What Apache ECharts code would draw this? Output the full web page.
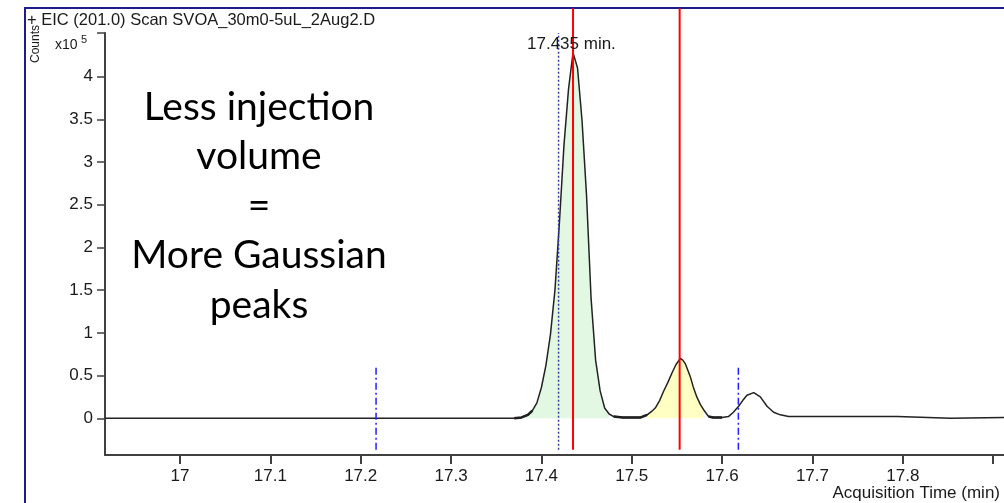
<!DOCTYPE html>
<html>
  <head>
    <meta charset="utf-8" />
    <script src="https://cdn.jsdelivr.net/npm/echarts@6/dist/echarts.min.js"></script>
    <style>
      html, body { margin: 0; padding: 0; background: #fff; }
      #main { width: 1004px; height: 503px; }
    </style>
  </head>

  <body>
    <div id="main"></div>
    <script type="text/javascript">
      // EIC trace, acquisition time (min) vs counts (x10^5)
      const times = [16.917, 17.370, 17.378, 17.385, 17.390, 17.395, 17.400, 17.405, 17.410, 17.415,
        17.420, 17.425, 17.430, 17.435, 17.440, 17.445, 17.450, 17.455, 17.460, 17.465,
        17.470, 17.475, 17.480, 17.490, 17.500, 17.510, 17.517, 17.522, 17.526, 17.531,
        17.535, 17.540, 17.5445, 17.549, 17.5537, 17.5565, 17.5592, 17.5647, 17.568, 17.572,
        17.576, 17.5795, 17.585, 17.590, 17.600, 17.607, 17.6125, 17.6183, 17.623, 17.6275,
        17.635, 17.6423, 17.6497, 17.657, 17.6644, 17.6736, 17.794, 17.795, 17.853, 17.854, 17.912];
      const counts = [0, 0, 0.01, 0.04, 0.09, 0.18, 0.36, 0.62, 0.98, 1.50,
        2.30, 3.20, 3.85, 4.28, 4.10, 3.48, 2.60, 1.40, 0.68, 0.32,
        0.12, 0.05, 0.02, 0.01, 0.01, 0.01, 0.04, 0.08, 0.12, 0.21,
        0.31, 0.42, 0.53, 0.63, 0.70, 0.68, 0.64, 0.49, 0.37, 0.25,
        0.16, 0.10, 0.02, 0.01, 0.01, 0.02, 0.07, 0.14, 0.21, 0.27,
        0.30, 0.25, 0.14, 0.07, 0.04, 0.02, 0.02, 0.00, 0.00, 0.01, 0.01];

      const xTicks = [17, 17.1, 17.2, 17.3, 17.4, 17.5, 17.6, 17.7, 17.8, 17.9];
      const xLabels = [17, 17.1, 17.2, 17.3, 17.4, 17.5, 17.6, 17.7, 17.8];
      const yTicks = [0, 0.5, 1, 1.5, 2, 2.5, 3, 3.5, 4, 4.51];
      const yLabels = [0, 0.5, 1, 1.5, 2, 2.5, 3, 3.5, 4];

      // integrated peak regions and the drawn baseline pieces between them
      const greenRange = [17.3755, 17.479];
      const yellowRange = [17.516, 17.584];
      const baseRanges = [[17.37, 17.392], [17.479, 17.517], [17.584, 17.600]];

      // marker lines: [time, bottom, top]
      const redMarks = [[17.435, -0.37, 4.8], [17.553, -0.37, 4.8]];
      const dotMarks = [[17.419, -0.37, 4.51]];
      const dashMarks = [[17.217, -0.37, 0.59], [17.618, -0.37, 0.59]];

      const apexLabel = '17.435 min.';
      const note = ['Less injection', 'volume', '=', 'More Gaussian', 'peaks'];

      const trace = times.map((t, i) => [t, counts[i]]);
      const inRange = r => trace.filter(p => p[0] >= r[0] && p[0] <= r[1]);

      var myChart = echarts.init(document.getElementById('main'));

      const fillSeries = (r, color) => ({
        type: 'line',
        data: inRange(r),
        symbol: 'none',
        silent: true,
        lineStyle: { width: 0 },
        areaStyle: { color: color, opacity: 1 },
        z: 1
      });

      const baseSeries = r => ({
        type: 'line',
        data: inRange(r),
        symbol: 'none',
        silent: true,
        lineStyle: { color: '#111', width: 2.5 },
        z: 2
      });

      const vline = (m, style) => ({
        type: 'line',
        data: [[m[0], m[1]], [m[0], m[2]]],
        symbol: 'none',
        silent: true,
        clip: false,
        lineStyle: style,
        z: 4
      });

      const series = [
        fillSeries(greenRange, '#e2f8e2'),
        fillSeries(yellowRange, '#ffffc4'),
        {
          type: 'line',
          data: trace,
          symbol: 'none',
          silent: true,
          lineStyle: { color: '#222', width: 1.5 },
          z: 3
        }
      ]
        .concat(baseRanges.map(baseSeries))
        .concat(dotMarks.map(m => vline(m, { color: '#3a3aa8', width: 1.5, type: [2, 2] })))
        .concat(dashMarks.map(m => vline(m, { color: '#2020ff', width: 1.5, type: [7, 3, 2, 3] })))
        .concat(redMarks.map(m => vline(m, { color: '#ff0000', width: 2 })));

      const labelFont = { fontFamily: 'Liberation Sans', fontSize: 17, color: '#1a1a1a' };

      var option = {
        animation: false,
        grid: { left: 105, top: 33, right: 0, bottom: 48, outerBoundsMode: 'none' },
        xAxis: {
          type: 'value',
          min: 16.917,
          max: 17.912,
          axisLine: { show: true, onZero: false, lineStyle: { color: '#404040', width: 2 } },
          axisTick: { show: true, length: 9, customValues: xTicks, lineStyle: { color: '#404040', width: 2 } },
          axisLabel: Object.assign({ margin: 13, customValues: xLabels }, labelFont),
          splitLine: { show: false }
        },
        yAxis: {
          type: 'value',
          min: -0.43,
          max: 4.51,
          axisLine: { show: true, onZero: false, lineStyle: { color: '#404040', width: 2 } },
          axisTick: { show: true, length: 8, customValues: yTicks, lineStyle: { color: '#404040', width: 1.5 } },
          axisLabel: Object.assign({ margin: 12, customValues: yLabels }, labelFont),
          splitLine: { show: false }
        },
        graphic: [
          {
            type: 'rect', silent: true, z: 0,
            shape: { x: 25, y: 8, width: 1000, height: 600 },
            style: { fill: 'none', stroke: '#1c1c8a', lineWidth: 2 }
          },
          {
            type: 'text', left: 27, top: 12,
            style: { text: '+ EIC (201.0) Scan SVOA_30m0-5uL_2Aug2.D', font: '16.5px "Liberation Sans"', fill: '#1a1a1a' }
          },
          {
            type: 'text', x: 36, y: 44, rotation: Math.PI / 2,
            style: { text: 'Counts', font: '12px "Liberation Sans"', fill: '#1a1a1a', align: 'center', verticalAlign: 'middle' }
          },
          {
            type: 'text', x: 55, y: 45,
            style: { text: 'x10', font: '14px "Liberation Sans"', fill: '#1a1a1a', verticalAlign: 'middle' }
          },
          {
            type: 'text', x: 81, y: 40,
            style: { text: '5', font: '11px "Liberation Sans"', fill: '#1a1a1a', verticalAlign: 'middle' }
          },
          {
            type: 'text', x: 527, y: 44, z: 10,
            style: { text: apexLabel, font: '17px "Liberation Sans"', fill: '#1a1a1a', verticalAlign: 'middle' }
          },
          {
            type: 'text', right: 4, top: 485,
            style: { text: 'Acquisition Time (min)', font: '17px "Liberation Sans"', fill: '#1a1a1a' }
          }
        ].concat(note.map((line, i) => ({
          type: 'text', x: 259, y: 107 + i * 49.5, z: 10,
          style: { text: line, font: '39px Lato', fill: '#000', align: 'center', verticalAlign: 'middle' }
        }))),
        series: series
      };

      myChart.setOption(option);
    </script>
  </body>

</html>
